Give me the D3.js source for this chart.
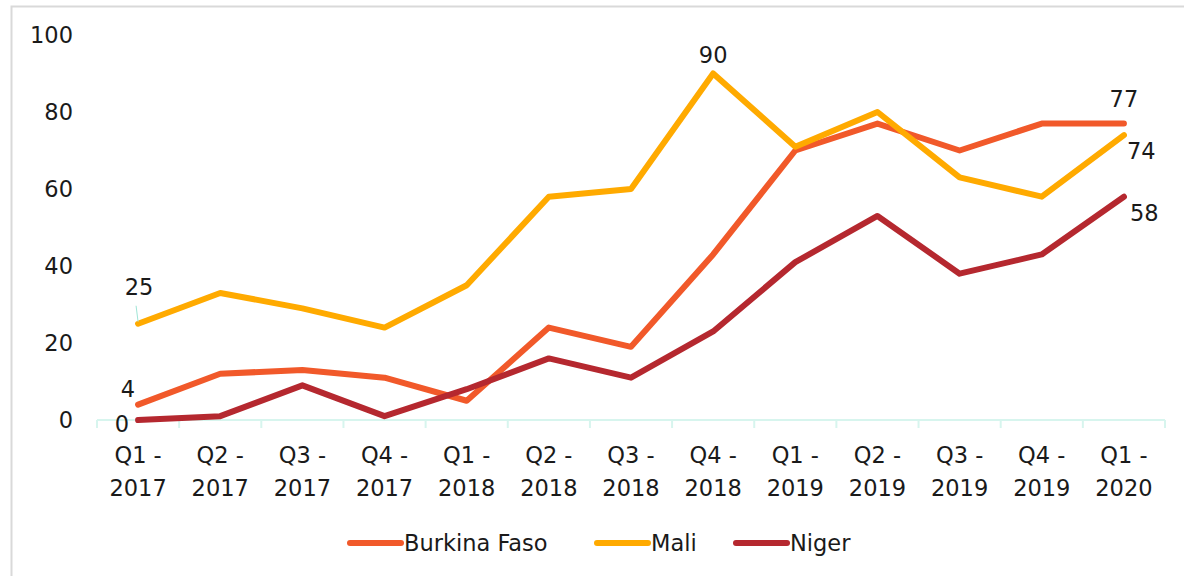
<!DOCTYPE html>
<html>
<head>
<meta charset="utf-8">
<script src="https://cdn.jsdelivr.net/npm/d3@7"></script>
<style>
  body { margin: 0; background: #fff; }
  text { font-family: "DejaVu Sans", sans-serif; }
</style>
</head>
<body>
<div id="chart"></div>
<script>
const quarters = ["Q1 - 2017", "Q2 - 2017", "Q3 - 2017", "Q4 - 2017", "Q1 - 2018", "Q2 - 2018",
    "Q3 - 2018", "Q4 - 2018", "Q1 - 2019", "Q2 - 2019", "Q3 - 2019", "Q4 - 2019", "Q1 - 2020"];
const burkinaFaso = [4, 12, 13, 11, 5, 24, 19, 43, 70, 77, 70, 77, 77];
const mali = [25, 33, 29, 24, 35, 58, 60, 90, 71, 80, 63, 58, 74];
const niger = [0, 1, 9, 1, 8, 16, 11, 23, 41, 53, 38, 43, 58];
const yTicks = [0, 20, 40, 60, 80, 100];

const series = [
    {name: "Burkina Faso", values: burkinaFaso, color: "#f1592a"},
    {name: "Mali", values: mali, color: "#ffaa00"},
    {name: "Niger", values: niger, color: "#b5282f"}
];

// labels shown on points: [series, index, dx, dy, anchor]
const pointLabels = [
    ["Mali", 0, 1, -29, "middle"],
    ["Burkina Faso", 0, -3, -8, "end"],
    ["Niger", 0, -9, 12, "end"],
    ["Mali", 7, 0, -11, "middle"],
    ["Burkina Faso", 12, 0, -17, "middle"],
    ["Mali", 12, 3, 24, "start"],
    ["Niger", 12, 6, 24, "start"]
];

const fontSize = 22.5;
const width = 1184, height = 576;
const margin = {top: 35, right: 19, bottom: 156, left: 97};
const innerW = width - margin.left - margin.right;
const innerH = height - margin.top - margin.bottom;

const svg = d3.select("#chart").append("svg")
    .attr("width", width)
    .attr("height", height);

// outer frame
svg.append("rect")
    .attr("x", 11.5).attr("y", 6.5)
    .attr("width", width + 10).attr("height", height + 10)
    .attr("fill", "none")
    .attr("stroke", "#d9d9d9")
    .attr("stroke-width", 2);

const g = svg.append("g")
    .attr("transform", "translate(" + margin.left + "," + margin.top + ")");

const x = d3.scaleBand()
    .domain(quarters)
    .range([0, innerW]);

const y = d3.scaleLinear()
    .domain([0, 100])
    .range([innerH, 0]);

const cx = d => x(d) + x.bandwidth() / 2;

// y tick labels
g.selectAll(".ylab")
    .data(yTicks)
    .join("text")
    .attr("class", "ylab")
    .attr("x", -24)
    .attr("y", d => y(d))
    .attr("dy", "0.35em")
    .attr("text-anchor", "end")
    .attr("font-size", fontSize)
    .attr("fill", "#1a1a1a")
    .text(d => d);

// x axis
const axis = g.append("g")
    .attr("transform", "translate(0," + innerH + ")");
axis.append("line")
    .attr("x1", 0).attr("x2", innerW)
    .attr("stroke", "#d7f5ee").attr("stroke-width", 2);
axis.selectAll(".tick")
    .data(d3.range(quarters.length + 1))
    .join("line")
    .attr("class", "tick")
    .attr("x1", i => i * x.step()).attr("x2", i => i * x.step())
    .attr("y1", 0).attr("y2", 8)
    .attr("stroke", "#d7f5ee").attr("stroke-width", 2);

const xl = axis.selectAll(".xlab")
    .data(quarters)
    .join("text")
    .attr("class", "xlab")
    .attr("x", d => cx(d))
    .attr("y", 43)
    .attr("text-anchor", "middle")
    .attr("font-size", fontSize)
    .attr("fill", "#1a1a1a");
xl.append("tspan").attr("x", d => cx(d)).text(d => d.split(" - ")[0] + " -");
xl.append("tspan").attr("x", d => cx(d)).attr("dy", 33).text(d => d.split(" - ")[1]);

// lines
const line = d3.line()
    .x((d, i) => cx(quarters[i]))
    .y(d => y(d));

g.selectAll(".series")
    .data(series)
    .join("path")
    .attr("class", "series")
    .attr("d", d => line(d.values))
    .attr("fill", "none")
    .attr("stroke", d => d.color)
    .attr("stroke-width", 6)
    .attr("stroke-linejoin", "round")
    .attr("stroke-linecap", "round");

// leader line for the first Mali label
g.append("line")
    .attr("x1", cx(quarters[0]) - 2).attr("y1", y(mali[0]) - 18)
    .attr("x2", cx(quarters[0])).attr("y2", y(mali[0]) - 2)
    .attr("stroke", "#9fe5d6").attr("stroke-width", 1);

// point labels
g.selectAll(".plab")
    .data(pointLabels)
    .join("text")
    .attr("class", "plab")
    .attr("x", d => cx(quarters[d[1]]) + d[2])
    .attr("y", d => y(series.find(s => s.name === d[0]).values[d[1]]) + d[3])
    .attr("text-anchor", d => d[4])
    .attr("font-size", fontSize)
    .attr("fill", "#1a1a1a")
    .text(d => series.find(s => s.name === d[0]).values[d[1]]);

// legend
const legendX = [350, 597, 736];
const legend = svg.selectAll(".legend")
    .data(series)
    .join("g")
    .attr("class", "legend")
    .attr("transform", (d, i) => "translate(" + legendX[i] + ",543)");
legend.append("line")
    .attr("x1", 0).attr("x2", 51)
    .attr("stroke", d => d.color)
    .attr("stroke-width", 6)
    .attr("stroke-linecap", "round");
legend.append("text")
    .attr("x", 54)
    .attr("dy", "0.35em")
    .attr("font-size", fontSize)
    .attr("fill", "#1a1a1a")
    .text(d => d.name);
</script>
</body>
</html>
